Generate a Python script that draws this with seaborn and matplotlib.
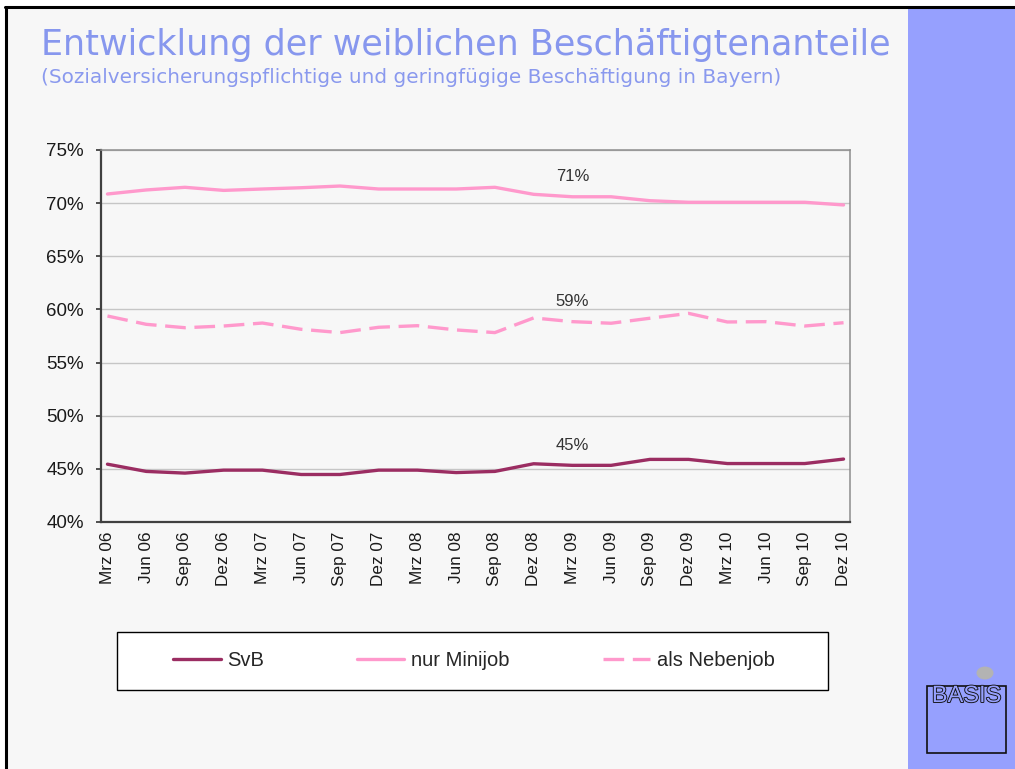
import numpy as np
import pandas as pd
import matplotlib
matplotlib.use("Agg")
import matplotlib.pyplot as plt
import seaborn as sns
from matplotlib.patches import Rectangle, Circle
from matplotlib.lines import Line2D
import matplotlib.patheffects as pe

# ---------------- data ----------------
months = ["Mrz 06", "Jun 06", "Sep 06", "Dez 06", "Mrz 07", "Jun 07", "Sep 07", "Dez 07",
          "Mrz 08", "Jun 08", "Sep 08", "Dez 08", "Mrz 09", "Jun 09", "Sep 09", "Dez 09",
          "Mrz 10", "Jun 10", "Sep 10", "Dez 10"]
svb = [45.44, 44.76, 44.60, 44.88, 44.88, 44.47, 44.47, 44.88, 44.88, 44.65,
       44.76, 45.48, 45.33, 45.33, 45.89, 45.89, 45.50, 45.50, 45.50, 45.92]
minijob = [70.86, 71.24, 71.49, 71.20, 71.33, 71.45, 71.61, 71.33, 71.33, 71.33,
           71.49, 70.83, 70.60, 70.60, 70.23, 70.08, 70.08, 70.08, 70.08, 69.83]
nebenjob = [59.38, 58.60, 58.28, 58.44, 58.72, 58.13, 57.82, 58.32, 58.47, 58.07,
            57.82, 59.20, 58.85, 58.70, 59.17, 59.63, 58.82, 58.85, 58.44, 58.75]
series_names = ["SvB", "nur Minijob", "als Nebenjob"]
label_month = "Mrz 09"

title = "Entwicklung der weiblichen Beschäftigtenanteile"
subtitle = "(Sozialversicherungspflichtige und geringfügige Beschäftigung in Bayern)"

# month index on a monthly axis (quarterly observations)
pos = np.arange(len(months)) * 3
n_months = pos[-1] + 1

df = pd.DataFrame({"pos": pos, series_names[0]: svb,
                   series_names[1]: minijob, series_names[2]: nebenjob})
long = df.melt(id_vars="pos", var_name="series", value_name="value")

palette = {"SvB": "#9B2D62", "nur Minijob": "#FF99CC", "als Nebenjob": "#FF99CC"}
dashes = {"SvB": "", "nur Minijob": "", "als Nebenjob": (6.2, 2.6)}

# ---------------- style ----------------
sns.set_theme(style="white")
plt.rcParams["font.family"] = ["Liberation Sans", "DejaVu Sans"]

W, H = 1015, 769
fig = plt.figure(figsize=(W / 100, H / 100), dpi=100, facecolor="white")

def fx(x):
    return x / W

def fy(y):
    return 1 - y / H

# slide background, side panel, border
fig.patches.append(Rectangle((fx(6), 0), fx(908 - 6), 1 - 7 / H, transform=fig.transFigure,
                             facecolor="#F7F7F7", edgecolor="none", zorder=-3))
fig.patches.append(Rectangle((fx(908), 0), fx(W - 908), 1 - 8 / H, transform=fig.transFigure,
                             facecolor="#96A0FE", edgecolor="none", zorder=-3))
fig.lines.append(Line2D([fx(5), 1], [fy(7), fy(7)], transform=fig.transFigure,
                        color="black", lw=2.2, zorder=-2))
fig.lines.append(Line2D([fx(6), fx(6)], [0, fy(7)], transform=fig.transFigure,
                        color="black", lw=2.2, zorder=-2))

# titles
fig.text(fx(41), fy(55), title, fontsize=25.2, color="#8797EE", va="baseline", ha="left",
         family=["DejaVu Sans"])
fig.text(fx(41), fy(83), subtitle, fontsize=14.4, color="#8A99EE", va="baseline", ha="left",
         family=["DejaVu Sans"])

# ---------------- chart ----------------
ax = fig.add_axes([fx(101), fy(522), fx(850 - 101), (522 - 150) / H])
ax.set_zorder(1)
ax.set_facecolor("#F7F7F7")

sns.lineplot(data=long, x="pos", y="value", hue="series", style="series",
             palette=palette, dashes=dashes, hue_order=series_names,
             style_order=series_names, linewidth=2.4, legend=False, ax=ax, zorder=3)

ax.set_xlim(-0.5, n_months - 0.5)
ax.set_ylim(40, 75)
ax.set_xticks(pos)
ax.set_xticklabels(months, rotation=90, fontsize=12.3, color="#1a1a1a")
ax.set_xticks(np.arange(-0.5, n_months, 3), minor=True)
yt = np.arange(40, 76, 5)
ax.set_yticks(yt)
ax.set_yticklabels([f"{v}%" for v in yt], fontsize=13.5, color="#1a1a1a")
ax.set_xlabel("")
ax.set_ylabel("")

ax.tick_params(axis="x", which="major", length=0, pad=7)
ax.tick_params(axis="x", which="minor", length=4, width=1.2, color="#333333", direction="out")
ax.tick_params(axis="y", which="major", length=3.5, width=1.2, color="#333333",
               direction="out", pad=9, left=True)
ax.yaxis.grid(True, color="#C6C6C6", lw=1)
ax.xaxis.grid(False)
ax.set_axisbelow(True)

for s in ["left", "bottom"]:
    ax.spines[s].set_color("#404040")
    ax.spines[s].set_linewidth(1.6)
for s in ["top", "right"]:
    ax.spines[s].set_color("#8C8C8C")
    ax.spines[s].set_linewidth(1.1)

# data labels at Mrz 09
li = months.index(label_month)
for vals in (minijob, nebenjob, svb):
    ax.annotate(f"{round(vals[li])}%", xy=(pos[li], vals[li]), xytext=(0, 14.5),
                textcoords="offset points", ha="center", va="center",
                fontsize=12, color="#333333")

# ---------------- legend ----------------
fig.patches.append(Rectangle((fx(117), fy(690)), fx(828 - 117), (690 - 632) / H,
                             transform=fig.transFigure, facecolor="white",
                             edgecolor="black", lw=1.0, zorder=1))
handles = [Line2D([], [], color=palette[n], lw=2.4, linestyle="-") for n in series_names]
handles[2].set_dashes(dashes["als Nebenjob"])
fig.legend(handles, series_names, loc="center", bbox_to_anchor=(fx(474), fy(661)),
           ncol=3, frameon=False, fontsize=14.5, handlelength=2.35, handletextpad=0.35,
           columnspacing=4.6)

# ---------------- logo ----------------
fig.patches.append(Rectangle((fx(927), fy(753)), fx(1006 - 927), (753 - 686) / H,
                             transform=fig.transFigure, facecolor="none",
                             edgecolor="#111111", lw=1.2, zorder=2))
fig.patches.append(Circle((fx(985), fy(673)), 8.5 / W, transform=fig.transFigure,
                          facecolor="#B3B3B3", edgecolor="none", zorder=2))
fig.text(fx(966.5), fy(696), "BASIS", ha="center", va="center", fontsize=17,
         color="#96A0FE", fontstretch="condensed", family=["Liberation Sans Narrow", "Liberation Sans"],
         path_effects=[pe.Stroke(linewidth=1.3, foreground="#111111"), pe.Normal()], zorder=3)

fig.savefig("out.png", dpi=100)
